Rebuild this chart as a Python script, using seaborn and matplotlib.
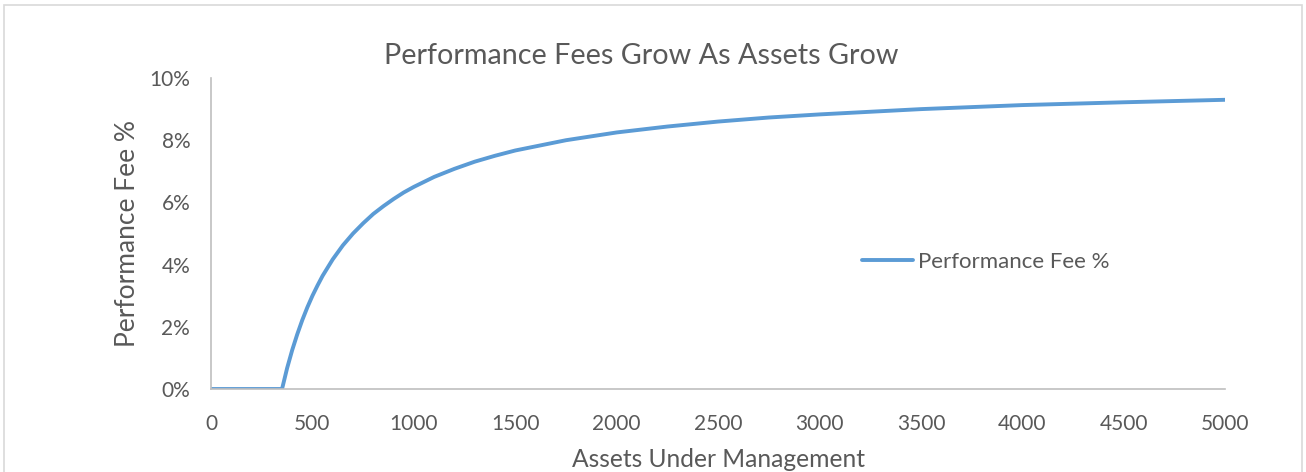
import matplotlib
matplotlib.use("Agg")
import matplotlib.pyplot as plt
import seaborn as sns
import pandas as pd
from matplotlib.ticker import PercentFormatter
from matplotlib.patches import Rectangle

# values
assets = [0, 100, 200, 300, 350, 375, 400, 425, 450, 475, 500, 525, 550, 600,
          650, 700, 750, 800, 850, 900, 950, 1000, 1100, 1200, 1300, 1400,
          1500, 1750, 2000, 2250, 2500, 2750, 3000, 3500, 4000, 4500, 5000]
fee_pct = [0, 0, 0, 0, 0, 0.67, 1.25, 1.76, 2.22, 2.63, 3.00, 3.33, 3.64, 4.17,
           4.62, 5.00, 5.33, 5.63, 5.88, 6.11, 6.32, 6.50, 6.82, 7.08, 7.31, 7.50,
           7.67, 8.00, 8.25, 8.44, 8.60, 8.73, 8.83, 9.00, 9.13, 9.22, 9.30]
x_ticks = list(range(0, 5001, 500))
y_ticks = [0, 2, 4, 6, 8, 10]

df = pd.DataFrame({"Assets Under Management": assets, "Performance Fee %": fee_pct})

sns.set_style("white")
plt.rcParams['font.family'] = ['Lato', 'DejaVu Sans']

GREY = "#595959"
BLUE = "#5b9bd5"

fig = plt.figure(figsize=(13.06, 4.72), dpi=100)
ax = fig.add_axes([0.1616, 0.1758, 0.7765, 0.6589])

sns.lineplot(data=df, x="Assets Under Management", y="Performance Fee %",
             ax=ax, color=BLUE, linewidth=2.8, label="Performance Fee %")

ax.set_xlim(0, 5000)
ax.set_ylim(0, 10)
ax.set_xticks(x_ticks)
ax.set_yticks(y_ticks)
ax.yaxis.set_major_formatter(PercentFormatter(xmax=100, decimals=0))
ax.tick_params(axis="both", length=0, labelsize=15, labelcolor=GREY)
ax.tick_params(axis="x", pad=18)
ax.tick_params(axis="y", pad=15)

for s in ["top", "right"]:
    ax.spines[s].set_visible(False)
for s in ["left", "bottom"]:
    ax.spines[s].set_color("#bfbfbf")
    ax.spines[s].set_linewidth(1.2)

ax.set_xlabel("Assets Under Management", fontsize=17.7, color=GREY, labelpad=10)
ax.set_ylabel("Performance Fee %", fontsize=19, color=GREY, labelpad=7)
ax.set_title("Performance Fees Grow As Assets Grow", fontsize=20.7, color=GREY,
             x=0.424, pad=10)

leg = ax.legend(loc="center left", bbox_to_anchor=(0.622, 0.41), frameon=False,
                fontsize=16, handlelength=2.3, handletextpad=0.25)
for t in leg.get_texts():
    t.set_color(GREY)

fig.patches.append(Rectangle((0.003, -0.01), 0.994, 1.0, transform=fig.transFigure,
                             fill=False, edgecolor="#d9d9d9", linewidth=1.2))

fig.savefig("out.png", dpi=100)
